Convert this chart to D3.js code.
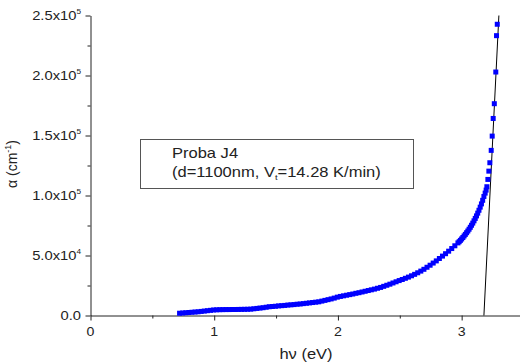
<!DOCTYPE html>
<html>
<head>
<meta charset="utf-8">
<script src="https://cdn.jsdelivr.net/npm/d3@7"></script>
<style>
  body { margin: 0; background: #fff; }
  svg { display: block; }
</style>
</head>
<body>
<div id="chart"></div>
<script>
// photon energy (eV) and absorption coefficient (cm^-1)
var energy = [
  0.720, 0.745, 0.770, 0.795, 0.820, 0.845, 0.870, 0.895, 0.920, 0.945,
  0.970, 0.995, 1.020, 1.045, 1.070, 1.095, 1.120, 1.145, 1.170, 1.195,
  1.220, 1.245, 1.270, 1.295, 1.320, 1.345, 1.370, 1.395, 1.420, 1.445,
  1.470, 1.495, 1.520, 1.545, 1.570, 1.595, 1.620, 1.645, 1.670, 1.695,
  1.720, 1.745, 1.770, 1.795, 1.820, 1.845, 1.870, 1.895, 1.920, 1.945,
  1.970, 1.995, 2.020, 2.045, 2.070, 2.095, 2.120, 2.145, 2.170, 2.195,
  2.220, 2.245, 2.270, 2.295, 2.320, 2.345, 2.370, 2.395, 2.420, 2.445,
  2.470, 2.495, 2.520, 2.545, 2.570, 2.595, 2.620, 2.645, 2.670, 2.695,
  2.720, 2.745, 2.770, 2.795, 2.820, 2.845, 2.870, 2.895, 2.920, 2.945,
  2.970, 2.980, 2.990, 3.000, 3.010, 3.020, 3.030, 3.040, 3.050, 3.060,
  3.070, 3.080, 3.090, 3.100, 3.110, 3.120, 3.130, 3.140, 3.150, 3.160,
  3.170, 3.180, 3.190, 3.198, 3.204, 3.212, 3.220, 3.228, 3.239, 3.247,
  3.255, 3.264, 3.276, 3.282, 3.288
];
var alpha = [
  1900, 2100, 2300, 2500, 2700, 2900, 3100, 3400, 3700, 4000,
  4300, 4600, 4750, 4850, 4900, 4950, 4950, 5000, 5000, 5050,
  5100, 5150, 5200, 5300, 5600, 5900, 6200, 6500, 6900, 7300,
  7500, 7700, 8000, 8200, 8400, 8700, 8900, 9100, 9400, 9600,
  9900, 10200, 10500, 10800, 11100, 11400, 12000, 12600, 13200, 13800,
  14500, 15300, 15900, 16400, 16900, 17400, 17900, 18500, 19000, 19600,
  20200, 20800, 21400, 22000, 22700, 23400, 24300, 25200, 26100, 27100,
  28100, 29100, 30000, 31000, 32000, 33100, 34300, 35600, 37000, 38500,
  40200, 41900, 43700, 45500, 47500, 49500, 51500, 53600, 55800, 58100,
  60500, 61500, 62600, 63800, 65000, 66300, 67600, 69000, 70400, 71900,
  73500, 75200, 77000, 78900, 80900, 83000, 85300, 87700, 90300, 93000,
  96000, 99200, 102000, 104500, 107300, 113400, 120300, 127300, 137600, 149500,
  164200, 176500, 202900, 233200, 242700
];
// linear fit of the absorption edge
var fitEnergy = [3.18, 3.301];
var fitAlpha = [0, 250000];

var xTicks = [0, 1, 2, 3];
var xTickLabels = ["0", "1", "2", "3"];
var xMinorTicks = [0.5, 1.5, 2.5];
var yTicks = [0, 50000, 100000, 150000, 200000, 250000];
var yTickMantissa = ["0.0", "5.0x10", "1.0x10", "1.5x10", "2.0x10", "2.5x10"];
var yTickPower = ["", "4", "5", "5", "5", "5"];
var yMinorTicks = [25000, 75000, 125000, 175000, 225000];

var outterWidth = 520;
var outterHeight = 362;
var stretch = 1.18; // the original text is a bit wider than the font

var svg = d3.select("div#chart").append("svg")
  .attr("width", outterWidth)
  .attr("height", outterHeight)
  .style("font-family", "'Liberation Sans', Arial, sans-serif");

var x = d3.scaleLinear().domain([0, 3.5]).range([90.5, 523.5]);
var y = d3.scaleLinear().domain([0, 250000]).range([315.5, 15.5]);

// axes
var xAxisG = svg.append("g").attr("transform", "translate(0," + y(0) + ")");
xAxisG.call(d3.axisBottom(x).tickValues(xTicks).tickSize(5).tickSizeOuter(0).tickFormat(""));
xAxisG.append("g").call(d3.axisBottom(x).tickValues(xMinorTicks).tickSize(3).tickSizeOuter(0).tickFormat(""))
  .select(".domain").remove();

var yAxisG = svg.append("g").attr("transform", "translate(" + x(0) + ",0)");
yAxisG.call(d3.axisLeft(y).tickValues(yTicks).tickSize(5).tickSizeOuter(0).tickFormat(""));
yAxisG.append("g").call(d3.axisLeft(y).tickValues(yMinorTicks).tickSize(3).tickSizeOuter(0).tickFormat(""))
  .select(".domain").remove();

svg.selectAll(".domain, .tick line").attr("stroke", "#222").attr("stroke-width", 1);

// tick labels
svg.append("g").selectAll("text")
  .data(xTicks)
  .enter().append("text")
  .attr("transform", function (d) { return "translate(" + x(d) + ",336) scale(" + stretch + ",1)"; })
  .attr("text-anchor", "middle")
  .attr("font-size", "12px")
  .attr("fill", "#222")
  .text(function (d, i) { return xTickLabels[i]; });

var yLabels = svg.append("g").selectAll("text")
  .data(yTicks)
  .enter().append("text")
  .attr("transform", function (d) { return "translate(81," + (y(d) + 4.5) + ") scale(" + stretch + ",1)"; })
  .attr("text-anchor", "end")
  .attr("font-size", "12.5px")
  .attr("fill", "#222");
yLabels.append("tspan").text(function (d, i) { return yTickMantissa[i]; });
yLabels.append("tspan")
  .attr("font-size", "7px")
  .attr("dy", -6)
  .text(function (d, i) { return yTickPower[i]; });

// axis titles
svg.append("text")
  .attr("transform", "translate(306,359) scale(" + stretch + ",1)")
  .attr("text-anchor", "middle")
  .attr("font-size", "14px")
  .attr("fill", "#222")
  .text("h\u03bd (eV)");

var yTitle = svg.append("text")
  .attr("transform", "translate(17,164) rotate(-90)")
  .attr("text-anchor", "middle")
  .attr("font-size", "14px")
  .attr("fill", "#222");
yTitle.append("tspan").text("\u03b1 (cm");
yTitle.append("tspan").attr("font-size", "9px").attr("dy", -6).text("-1");
yTitle.append("tspan").attr("dy", 6).text(")");

// legend box
svg.append("rect")
  .attr("x", 140.5).attr("y", 139.5)
  .attr("width", 273).attr("height", 49)
  .attr("fill", "none")
  .attr("stroke", "#555")
  .attr("stroke-width", 1);

svg.append("text")
  .attr("transform", "translate(172,158) scale(" + stretch + ",1)")
  .attr("font-size", "14px")
  .attr("fill", "#222")
  .text("Proba J4");

var legendLine2 = svg.append("text")
  .attr("transform", "translate(172,177) scale(" + stretch + ",1)")
  .attr("font-size", "14px")
  .attr("fill", "#222");
legendLine2.append("tspan").text("(d=1100nm, V");
legendLine2.append("tspan").attr("font-size", "8px").attr("dy", 3).text("t");
legendLine2.append("tspan").attr("dy", -3).text("=14.28 K/min)");

// linear fit line
svg.append("line")
  .attr("x1", x(fitEnergy[0])).attr("y1", y(fitAlpha[0]))
  .attr("x2", x(fitEnergy[1])).attr("y2", y(fitAlpha[1]))
  .attr("stroke", "#000")
  .attr("stroke-width", 1);

// data points
var points = energy.map(function (e, i) { return {e: e, a: alpha[i]}; });
svg.append("g").selectAll("rect")
  .data(points)
  .enter().append("rect")
  .attr("x", function (d) { return x(d.e) - 2.5; })
  .attr("y", function (d) { return y(d.a) - 2.5; })
  .attr("width", 5)
  .attr("height", 5)
  .attr("fill", "#0000ff");
</script>
</body>
</html>
